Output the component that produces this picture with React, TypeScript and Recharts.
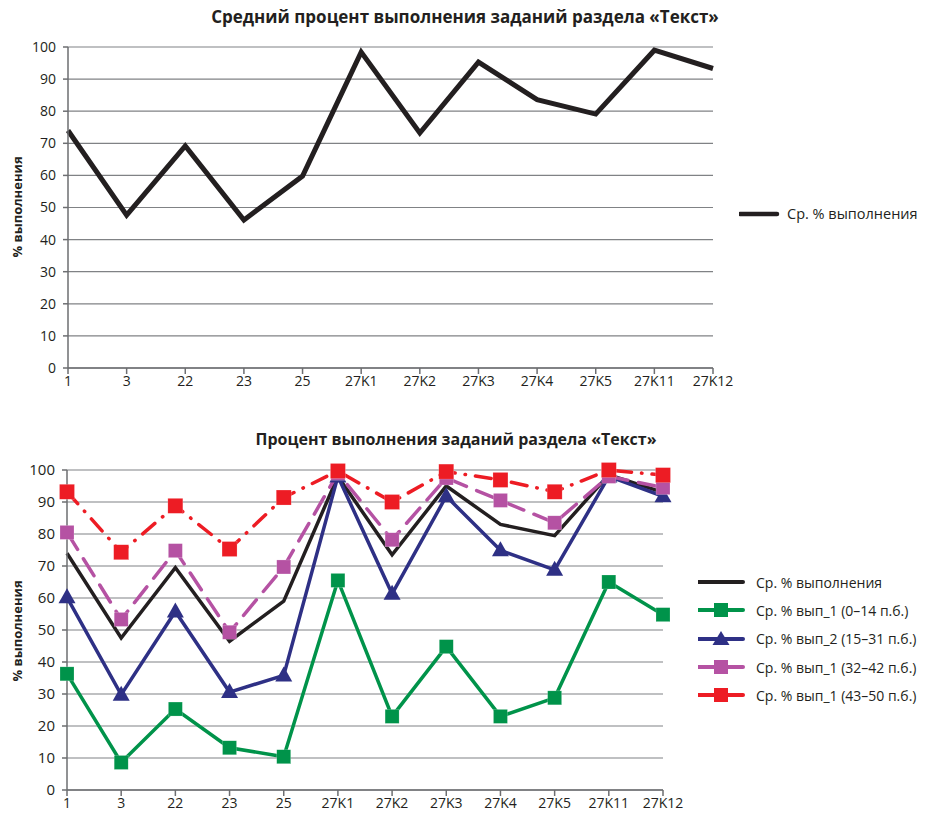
import React from 'react';
import { LineChart, Line, XAxis, YAxis, CartesianGrid, Legend } from 'recharts';

const categories = ['1', '3', '22', '23', '25', '27K1', '27K2', '27K3', '27K4', '27K5', '27K11', '27K12'];
const avgTop = [74, 47.6, 69.2, 46.1, 59.8, 98.4, 73.2, 95.3, 83.6, 79.1, 99, 93.3];
const avgBottom = [74, 47.5, 69.5, 46.5, 59, 98, 73.5, 95, 83, 79.5, 98.5, 93];
const group1 = [36.3, 8.6, 25.3, 13.2, 10.4, 65.5, 23, 44.8, 23, 28.8, 65, 54.8];
const group2 = [60.2, 29.8, 55.8, 30.6, 35.8, 98, 61.3, 91.8, 74.9, 68.8, 98, 91.8];
const group3 = [80.5, 53.3, 74.8, 49.3, 69.7, 99, 78.2, 97.5, 90.5, 83.5, 98, 94.5];
const group4 = [93.2, 74.3, 88.8, 75.3, 91.4, 99.7, 90, 99.5, 96.9, 93.2, 100, 98.4];
const yTicks = [0, 10, 20, 30, 40, 50, 60, 70, 80, 90, 100];

const seriesNames = {
  avg: 'Ср. % выполнения',
  g1: 'Ср. % вып_1 (0–14 п.б.)',
  g2: 'Ср. % вып_2 (15–31 п.б.)',
  g3: 'Ср. % вып_1 (32–42 п.б.)',
  g4: 'Ср. % вып_1 (43–50 п.б.)',
};

const COLORS = {
  black: '#231f20',
  green: '#00934a',
  blue: '#2e3085',
  purple: '#b552a3',
  red: '#ed1c24',
  grid: '#808285',
  axis: '#6d6e71',
};

const topData = categories.map((c, i) => ({ cat: c, avg: avgTop[i] }));
const bottomData = categories.map((c, i) => ({
  cat: c,
  avg: avgBottom[i],
  g1: group1[i],
  g2: group2[i],
  g3: group3[i],
  g4: group4[i],
}));

const FONT = "'Open Sans', 'Noto Sans', sans-serif";

const SquareDot = (props: any) => {
  const { cx, cy, color, size } = props;
  if (cx == null || cy == null) return null;
  return <rect x={cx - size / 2} y={cy - size / 2} width={size} height={size} fill={color} stroke="#ffffff" strokeOpacity={0.4} strokeWidth={0.5} />;
};

const TriangleDot = (props: any) => {
  const { cx, cy, color } = props;
  if (cx == null || cy == null) return null;
  return <polygon points={`${cx},${cy - 9} ${cx - 8.5},${cy + 6} ${cx + 8.5},${cy + 6}`} fill={color} />;
};

const TopLegend = () => (
  <div style={{ fontFamily: FONT, fontSize: 14.5, color: COLORS.black, display: 'flex', alignItems: 'center' }}>
    <svg width={48} height={10}>
      <line x1={1} y1={5} x2={38} y2={5} stroke={COLORS.black} strokeWidth={4.5} strokeLinecap="round" />
    </svg>
    <span>{seriesNames.avg}</span>
  </div>
);

const legendItems = [
  { name: seriesNames.avg, color: COLORS.black, marker: 'none' },
  { name: seriesNames.g1, color: COLORS.green, marker: 'square' },
  { name: seriesNames.g2, color: COLORS.blue, marker: 'triangle' },
  { name: seriesNames.g3, color: COLORS.purple, marker: 'square' },
  { name: seriesNames.g4, color: COLORS.red, marker: 'square' },
];

const BottomLegend = () => (
  <div style={{ fontFamily: FONT, fontSize: 14, color: COLORS.black }}>
    {legendItems.map((it) => (
      <div key={it.name} style={{ display: 'flex', alignItems: 'center', height: 28.3 }}>
        <svg width={58} height={18}>
          <line x1={0} y1={9} x2={45} y2={9} stroke={it.color} strokeWidth={4} strokeLinecap="round" />
          {it.marker === 'square' && <rect x={16} y={2} width={14} height={14} fill={it.color} />}
          {it.marker === 'triangle' && <polygon points="23,1 14.5,15 31.5,15" fill={it.color} />}
        </svg>
        <span>{it.name}</span>
      </div>
    ))}
  </div>
);

const YLabel = ({ top }: { top: number }) => (
  <div
    style={{
      position: 'absolute',
      left: 17,
      top,
      transform: 'translate(-50%, -50%) rotate(-90deg)',
      fontFamily: FONT,
      fontSize: 13,
      fontWeight: 700,
      color: COLORS.black,
      whiteSpace: 'nowrap',
    }}
  >
    % выполнения
  </div>
);

export default function App() {
  return (
    <div style={{ position: 'absolute', left: 0, top: 0, width: 926, height: 816, background: '#ffffff' }}>
      <div
        style={{
          position: 'absolute',
          left: 0,
          top: 5,
          width: 930,
          textAlign: 'center',
          fontFamily: FONT,
          fontWeight: 700,
          fontSize: 17,
          color: COLORS.black,
        }}
      >
        Средний процент выполнения заданий раздела «Текст»
      </div>
      <div style={{ position: 'absolute', left: 0, top: 0 }}>
        <LineChart width={926} height={400} data={topData} margin={{ top: 47, right: 213, left: 0, bottom: 0 }}>
          <CartesianGrid vertical={false} stroke={COLORS.grid} strokeWidth={1.2} />
          <XAxis
            dataKey="cat"
            interval={0}
            height={32}
            tick={{ fontSize: 14, fill: COLORS.black, fontFamily: FONT }}
            tickSize={6}
            tickMargin={2}
            stroke={COLORS.axis}
            strokeWidth={1.5}
          />
          <YAxis
            domain={[0, 100]}
            ticks={yTicks}
            width={68}
            tick={{ fontSize: 14, fill: COLORS.black, fontFamily: FONT }}
            tickSize={5}
            tickMargin={7}
            stroke={COLORS.axis}
            strokeWidth={1.5}
            interval={0}
          />
          <Line
            type="linear"
            dataKey="avg"
            name={seriesNames.avg}
            stroke={COLORS.black}
            strokeWidth={5}
            strokeLinejoin="miter"
            dot={false}
            isAnimationActive={false}
          />
          <Legend
            layout="vertical"
            align="center"
            verticalAlign="middle"
            wrapperStyle={{ left: 739, top: 204, width: 187 }}
            content={<TopLegend />}
          />
        </LineChart>
      </div>
      <YLabel top={207} />

      <div
        style={{
          position: 'absolute',
          left: 0,
          top: 428,
          width: 912,
          textAlign: 'center',
          fontFamily: FONT,
          fontWeight: 700,
          fontSize: 16,
          color: COLORS.black,
        }}
      >
        Процент выполнения заданий раздела «Текст»
      </div>
      <div style={{ position: 'absolute', left: 0, top: 400 }}>
        <LineChart width={926} height={416} data={bottomData} margin={{ top: 70, right: 263, left: 0, bottom: 0 }}>
          <CartesianGrid vertical={false} stroke={COLORS.grid} strokeWidth={1.2} />
          <XAxis
            dataKey="cat"
            interval={0}
            height={26}
            tick={{ fontSize: 14, fill: COLORS.black, fontFamily: FONT }}
            tickSize={6}
            tickMargin={2}
            stroke={COLORS.axis}
            strokeWidth={1.5}
          />
          <YAxis
            domain={[0, 100]}
            ticks={yTicks}
            width={67}
            tick={{ fontSize: 15, fill: COLORS.black, fontFamily: FONT }}
            tickSize={5}
            tickMargin={7}
            stroke={COLORS.axis}
            strokeWidth={1.5}
            interval={0}
          />
          <Line type="linear" dataKey="avg" name={seriesNames.avg} stroke={COLORS.black} strokeWidth={3.5} dot={false} isAnimationActive={false} />
          <Line
            type="linear"
            dataKey="g1"
            name={seriesNames.g1}
            stroke={COLORS.green}
            strokeWidth={3.5}
            dot={(p: any) => <SquareDot key={`g1-${p.index}`} cx={p.cx} cy={p.cy} color={COLORS.green} size={14} />}
            isAnimationActive={false}
          />
          <Line
            type="linear"
            dataKey="g2"
            name={seriesNames.g2}
            stroke={COLORS.blue}
            strokeWidth={3.5}
            dot={(p: any) => <TriangleDot key={`g2-${p.index}`} cx={p.cx} cy={p.cy} color={COLORS.blue} />}
            isAnimationActive={false}
          />
          <Line
            type="linear"
            dataKey="g3"
            name={seriesNames.g3}
            stroke={COLORS.purple}
            strokeWidth={3.5}
            strokeDasharray="20 11"
            strokeLinecap="round"
            dot={(p: any) => <SquareDot key={`g3-${p.index}`} cx={p.cx} cy={p.cy} color={COLORS.purple} size={14} />}
            isAnimationActive={false}
          />
          <Line
            type="linear"
            dataKey="g4"
            name={seriesNames.g4}
            stroke={COLORS.red}
            strokeWidth={3.5}
            strokeDasharray="16 10 0.5 10"
            strokeLinecap="round"
            dot={(p: any) => <SquareDot key={`g4-${p.index}`} cx={p.cx} cy={p.cy} color={COLORS.red} size={15} />}
            isAnimationActive={false}
          />
          <Legend
            layout="vertical"
            align="center"
            verticalAlign="middle"
            wrapperStyle={{ left: 698, top: 168, width: 228 }}
            content={<BottomLegend />}
          />
        </LineChart>
      </div>
      <YLabel top={631} />
    </div>
  );
}
